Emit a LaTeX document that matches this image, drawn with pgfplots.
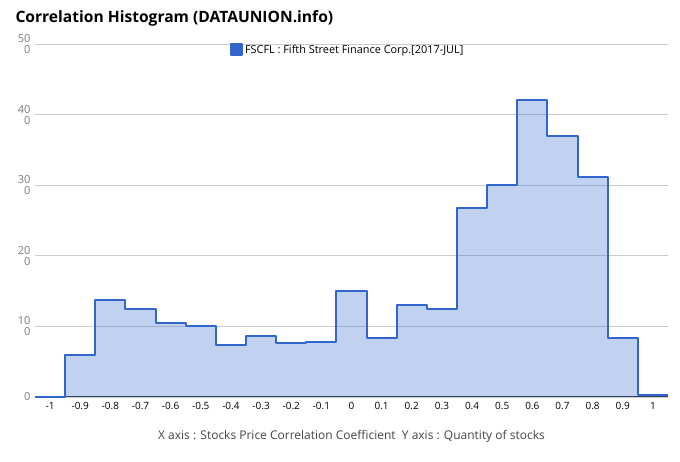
\documentclass[border=0pt]{standalone}
\usepackage{pgfplots}
\pgfplotsset{compat=1.18}
\usepackage{fontspec}
\setmainfont{Open Sans}
\definecolor{lineblue}{HTML}{3366CC}
\definecolor{gridgray}{HTML}{CCCCCC}
\definecolor{ylab}{HTML}{7A7A7A}
\definecolor{xlab}{HTML}{444444}
\definecolor{basec}{HTML}{333333}
\pgfplotstableread{
x y
-1.05 0
-0.95 60
-0.85 137
-0.75 125
-0.65 105
-0.55 100
-0.45 74
-0.35 87
-0.25 76
-0.15 78
-0.05 150
0.05 83
0.15 131
0.25 124
0.35 267
0.45 300
0.55 420
0.65 369
0.75 311
0.85 84
0.95 3
1.05 3
}\histdata
\begin{document}
\begin{tikzpicture}[x=1pt,y=1pt]
\path[use as bounding box] (0,0) rectangle (680,462);
\node[anchor=west,font=\fontsize{15.6}{18}\selectfont\bfseries,text=black] at (12,444) {Correlation Histogram (DATAUNION.info)};
\begin{axis}[
  at={(35pt,65pt)}, anchor=south west,
  scale only axis, width=633pt, height=353pt,
  xmin=-1.05, xmax=1.05, ymin=0, ymax=500,
  axis x line*=bottom, axis y line*=left,
  x axis line style={draw=basec, line width=1pt, -},
  y axis line style={draw=none},
  major tick length=0pt,
  xtick={-1,-0.9,-0.8,-0.7,-0.6,-0.5,-0.4,-0.3,-0.2,-0.1,0,0.1,0.2,0.3,0.4,0.5,0.6,0.7,0.8,0.9,1},
  xticklabels={-1,-0.9,-0.8,-0.7,-0.6,-0.5,-0.4,-0.3,-0.2,-0.1,0,0.1,0.2,0.3,0.4,0.5,0.6,0.7,0.8,0.9,1},
  xticklabel style={font=\fontsize{10}{12}\selectfont, text=black, yshift=-2pt},
  ytick={0,100,200,300,400,500},
  yticklabels={0,{10\\0},{20\\0},{30\\0},{40\\0},{50\\0}},
  yticklabel style={font=\fontsize{11}{11}\selectfont, text=ylab, align=right, xshift=-1pt},
  ymajorgrids, major grid style={draw=gridgray, line width=0.8pt},
  xlabel={X axis : Stocks Price Correlation Coefficient\ \ Y axis : Quantity of stocks},
  xlabel style={font=\fontsize{12}{14}\selectfont, text=xlab, yshift=-14pt},
  legend style={at={(0.494,0.983)}, anchor=center, draw=none, fill=none,
    font=\fontsize{10.9}{12}\selectfont, text=black},
  clip=false,
]
\addplot[const plot, draw=none, fill=lineblue, fill opacity=0.3, forget plot] table[x=x,y=y] {\histdata} \closedcycle;
\addplot[const plot, draw=lineblue, line width=2pt, line join=round,
  legend image code/.code={\fill[lineblue] (0pt,-5.5pt) rectangle (11pt,5.5pt);}] table[x=x,y=y] {\histdata};
\addlegendentry{FSCFL : Fifth Street Finance Corp.[2017-JUL]}
\end{axis}
\end{tikzpicture}
\end{document}
